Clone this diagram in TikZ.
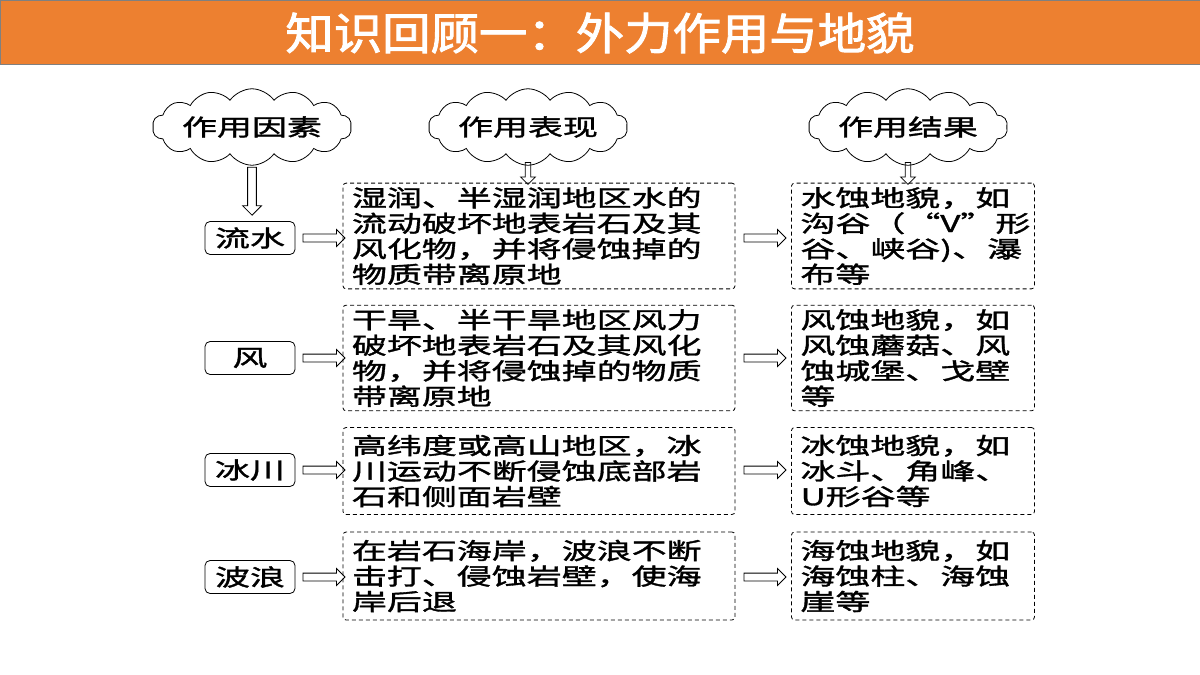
\documentclass[tikz,border=0pt]{standalone}
\usepackage{fontspec}
\usetikzlibrary{shapes.symbols,shapes.arrows}
\newfontfamily\cjk[FakeStretch=1.52,FakeBold=1.5]{Noto Sans CJK SC}
\newfontfamily\cjktitle[FakeStretch=1.1,FakeBold=2]{Noto Sans CJK SC}
\definecolor{titleorange}{RGB}{237,128,48}
\begin{document}
\begin{tikzpicture}[
        x=1pt, y=-1pt,
        txt/.style={font=\cjk\fontsize{23}{25.5}\selectfont},
        cloudbox/.style={cloud, draw, thick, cloud puffs=14, cloud puff arc=110, aspect=3.6, inner sep=0pt, txt},
        factor/.style={rectangle, rounded corners=5pt, draw, thick, minimum width=90pt, minimum height=33pt, txt},
        dbox/.style={rectangle, rounded corners=3pt, draw, thick, dash pattern=on 4pt off 3pt, align=left, inner xsep=9pt, inner ysep=4pt, txt},
        harrow/.style={single arrow, draw, thick, minimum height=42pt, minimum width=17pt, single arrow head extend=4pt, inner sep=3pt},
        varrow/.style={single arrow, draw, thick, shape border rotate=270, single arrow head extend=4pt, inner sep=3pt}
    ]
        \useasboundingbox (0,0) rectangle (1200,675);
        % Title
        \node[draw=gray, fill=titleorange, minimum width=1200pt, minimum height=64pt, anchor=north west] (title) at (0,0) {};
        \node[text=white, font=\cjktitle\fontsize{44}{46}\selectfont] (titletext) at (600,33) {知识回顾一：外力作用与地貌};

        % Headers
        \node[cloudbox] (cause) at (252,127) {作用因素};
        \node[cloudbox] (show) at (528,127) {作用表现};
        \node[cloudbox] (result) at (908,127) {作用结果};

        % Factors
        \node[factor] (water) at (250,238) {流水};
        \node[factor] (wind) at (250,358) {风};
        \node[factor] (ice) at (250,470) {冰川};
        \node[factor] (wave) at (250,577) {波浪};

        % Processes
        \node[dbox, minimum width=392pt, minimum height=105pt, text width=374pt] (pwater) at (539,236) {湿润、半湿润地区水的\\流动破坏地表岩石及其\\风化物，并将侵蚀掉的\\物质带离原地};
        \node[dbox, minimum width=392pt, minimum height=104pt, text width=374pt] (pwind) at (539,358) {干旱、半干旱地区风力\\破坏地表岩石及其风化\\物，并将侵蚀掉的物质\\带离原地};
        \node[dbox, minimum width=392pt, minimum height=87pt, text width=374pt] (pice) at (539,471) {高纬度或高山地区，冰\\川运动不断侵蚀底部岩\\石和侧面岩壁};
        \node[dbox, minimum width=392pt, minimum height=88pt, text width=374pt] (pwave) at (539,576) {在岩石海岸，波浪不断\\击打、侵蚀岩壁，使海\\岸后退};

        % Landforms
        \node[dbox, minimum width=243pt, minimum height=105pt, text width=225pt] (rwater) at (913,236) {水蚀地貌，如\\沟谷（“V”形\\谷、峡谷)、瀑\\布等};
        \node[dbox, minimum width=243pt, minimum height=104pt, text width=225pt] (rwind) at (913,358) {风蚀地貌，如\\风蚀蘑菇、风\\蚀城堡、戈壁\\等};
        \node[dbox, minimum width=243pt, minimum height=87pt, text width=225pt] (rice) at (913,471) {冰蚀地貌，如\\冰斗、角峰、\\U形谷等};
        \node[dbox, minimum width=243pt, minimum height=88pt, text width=225pt] (rwave) at (913,576) {海蚀地貌，如\\海蚀柱、海蚀\\崖等};

        % Arrows
        \node[varrow, minimum height=48pt, minimum width=19pt] (a0) at (252,189) {};
        \node[varrow, minimum height=22pt, minimum width=15pt, inner sep=2pt] (a1) at (528,172) {};
        \node[varrow, minimum height=22pt, minimum width=15pt, inner sep=2pt] (a2) at (908,172) {};
        \foreach \y/\n in {238/1,358/2,470/3,577/4} {
            \node[harrow] (l\n) at (322,\y) {};
            \node[harrow] (r\n) at (763,\y) {};
        }
    \end{tikzpicture}
\end{document}
